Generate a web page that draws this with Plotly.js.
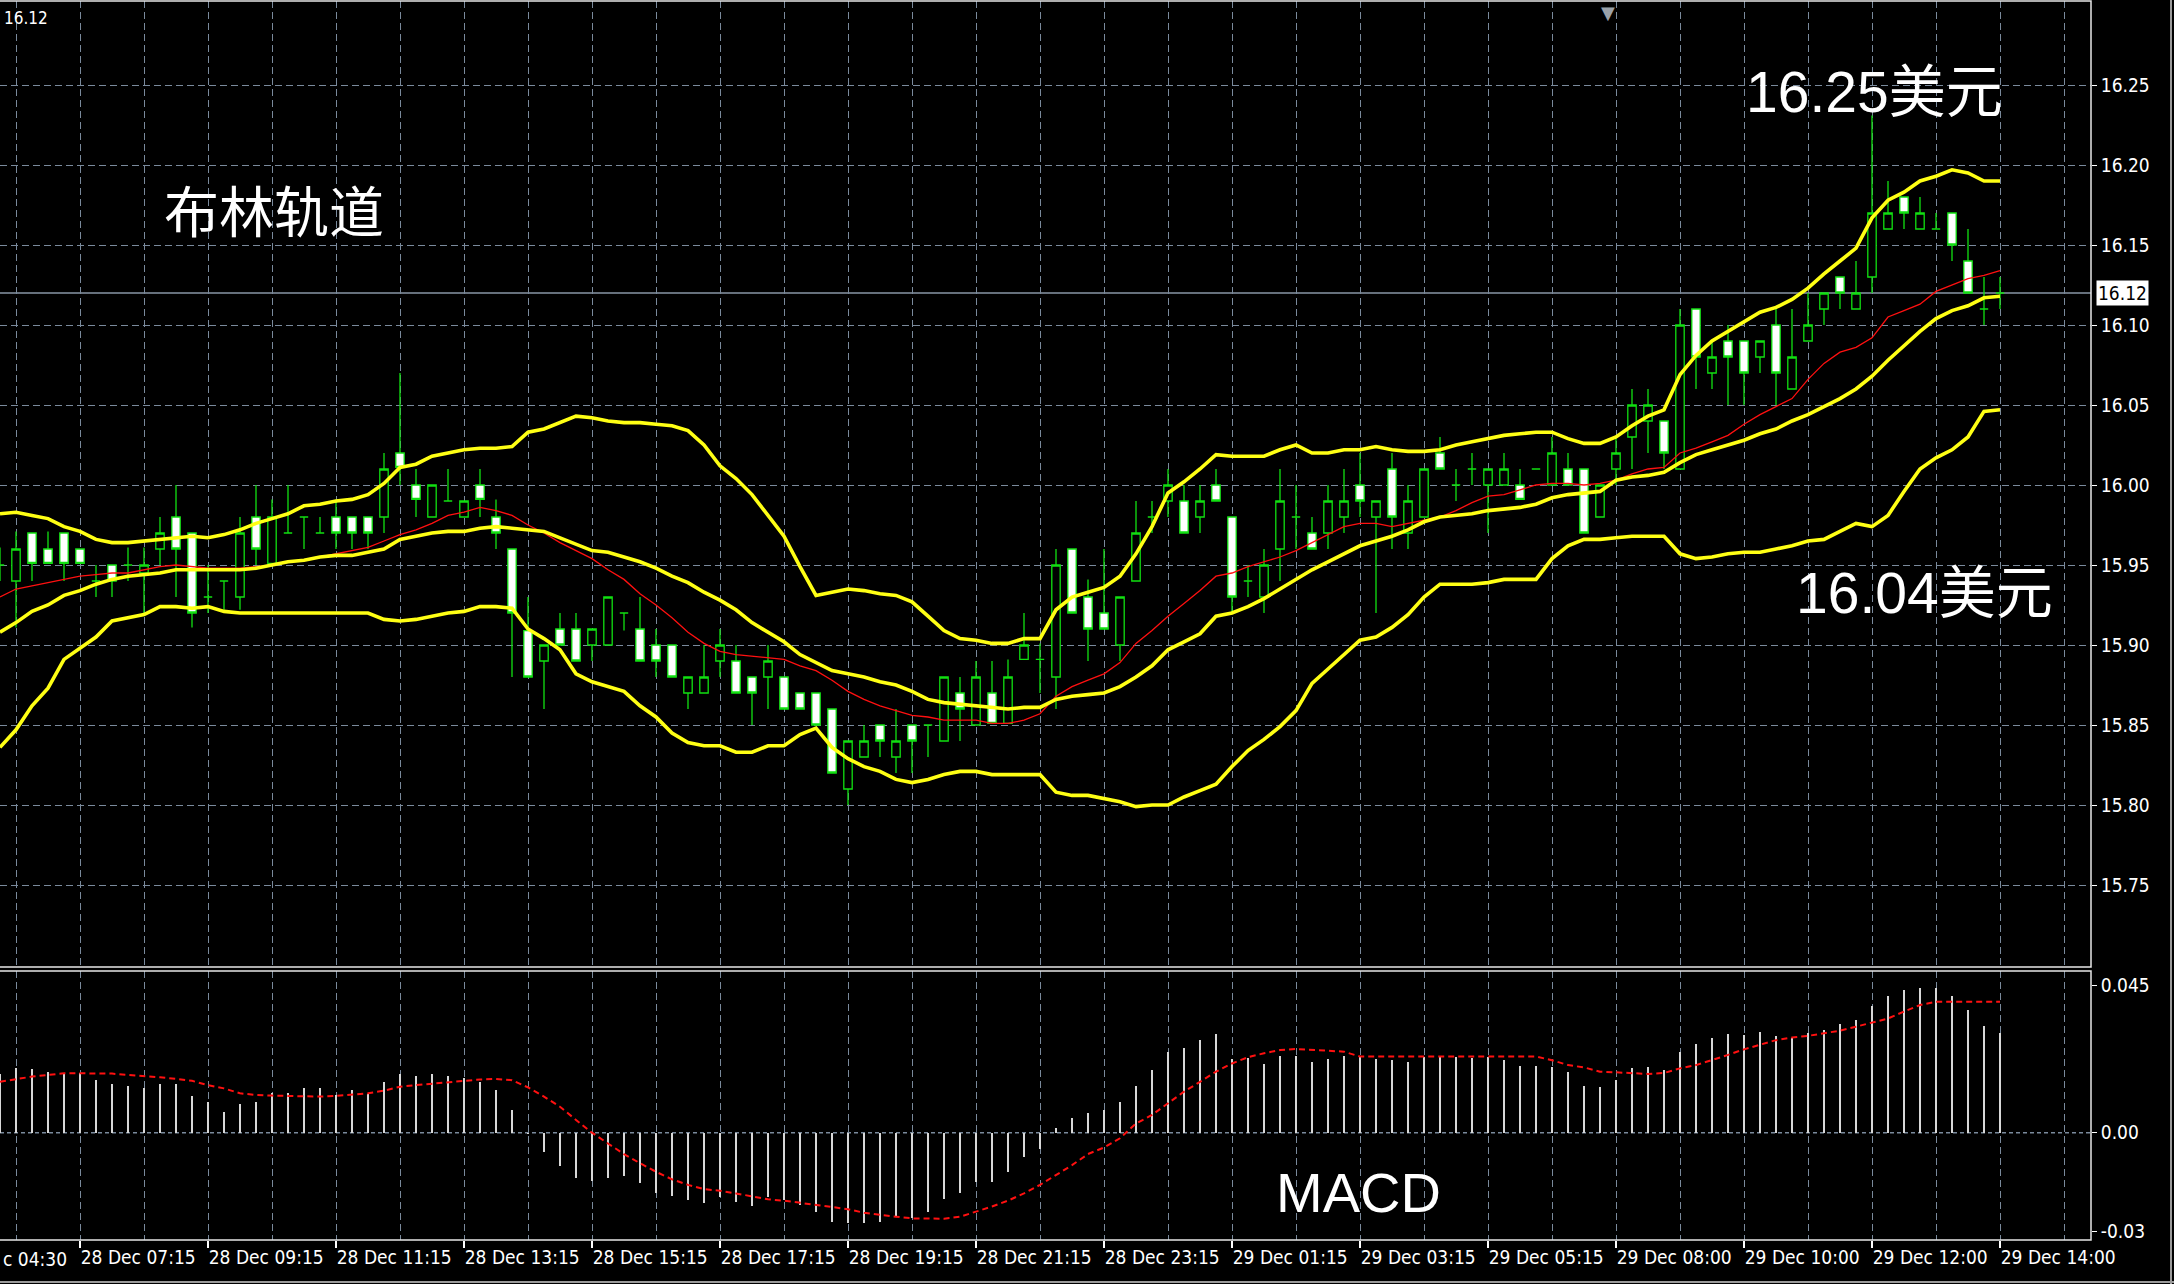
<!DOCTYPE html>
<html>
<head>
<meta charset="utf-8">
<script src="https://cdn.plot.ly/plotly-3.0.1.min.js"></script>
<style>
  html, body { margin: 0; padding: 0; background: #000; }
  #chart { width: 2174px; height: 1284px; }
</style>
</head>
<body>
<div id="chart"></div>
<script>
// ---- M15 bars (bar index 0 = leftmost visible bar) ----
const OPEN = [15.950,15.940,15.970,15.960,15.970,15.960,15.940,15.950,15.950,15.945,15.960,15.980,15.970,15.930,15.940,15.930,15.980,15.951,15.970,15.980,15.970,15.980,15.980,15.980,15.980,16.020,16.000,15.980,15.990,15.980,16.000,15.980,15.960,
15.909,15.890,15.910,15.910,15.900,15.900,15.920,15.910,15.900,15.900,15.870,15.870,15.890,15.890,15.880,15.880,15.880,15.870,15.870,15.860,15.810,15.830,15.850,15.830,15.850,15.850,15.840,15.870,15.850,15.870,15.851,
15.891,15.891,15.880,15.960,15.930,15.920,15.900,15.940,15.980,15.990,15.990,15.980,16.000,15.980,15.940,15.930,15.960,15.980,15.970,15.970,15.980,16.000,15.980,16.010,15.970,15.980,16.020,16.000,16.010,16.000,16.000,
16.000,16.010,16.000,16.010,16.010,15.980,16.010,16.030,16.040,16.040,16.010,16.110,16.070,16.090,16.090,16.080,16.100,16.060,16.090,16.110,16.130,16.110,16.130,16.160,16.180,16.160,16.160,16.170,16.140,16.110,16.120];
const HIGH = [15.961,15.971,15.970,15.971,15.970,15.960,15.950,15.950,15.961,15.961,15.980,16.000,15.970,15.950,15.940,15.980,16.000,15.991,16.000,15.980,15.980,15.991,15.980,15.980,16.020,16.070,16.010,16.000,16.010,15.990,16.010,15.991,15.960,
15.930,15.900,15.920,15.920,15.910,15.930,15.920,15.930,15.910,15.900,15.880,15.900,15.910,15.900,15.880,15.900,15.880,15.870,15.870,15.860,15.840,15.850,15.850,15.860,15.850,15.850,15.880,15.880,15.890,15.890,15.891,
15.920,15.901,15.960,15.960,15.941,15.960,15.930,15.990,15.990,16.010,16.000,16.000,16.010,15.980,15.950,15.960,16.010,16.000,15.980,16.000,16.010,16.020,15.990,16.020,16.000,16.010,16.030,16.010,16.020,16.010,16.020,
16.010,16.010,16.030,16.020,16.010,16.000,16.030,16.060,16.060,16.040,16.110,16.110,16.090,16.100,16.090,16.090,16.110,16.110,16.120,16.120,16.130,16.140,16.231,16.190,16.180,16.180,16.170,16.170,16.160,16.130,16.130];
const LOW = [15.940,15.911,15.940,15.951,15.940,15.951,15.930,15.930,15.940,15.920,15.950,15.930,15.911,15.920,15.922,15.922,15.950,15.951,15.970,15.960,15.970,15.960,15.960,15.960,15.970,16.000,15.980,15.980,15.990,15.980,15.980,15.960,15.880,
15.880,15.860,15.900,15.890,15.890,15.900,15.909,15.890,15.880,15.880,15.860,15.870,15.880,15.870,15.850,15.860,15.860,15.860,15.850,15.820,15.800,15.830,15.830,15.820,15.820,15.830,15.840,15.840,15.850,15.851,15.851,
15.891,15.870,15.860,15.920,15.890,15.910,15.890,15.940,15.970,15.980,15.970,15.970,15.990,15.920,15.930,15.920,15.940,15.960,15.960,15.960,15.970,15.980,15.920,15.960,15.960,15.980,16.010,15.990,16.000,15.970,16.000,
15.991,16.010,16.000,16.000,15.970,15.980,16.000,16.010,16.020,16.010,16.010,16.060,16.060,16.050,16.050,16.070,16.050,16.060,16.090,16.100,16.110,16.110,16.120,16.160,16.160,16.160,16.160,16.140,16.120,16.100,16.110];
const CLOSE = [15.950,15.960,15.951,15.951,15.951,15.951,15.940,15.940,15.950,15.950,15.970,15.960,15.920,15.930,15.940,15.970,15.960,15.980,15.970,15.980,15.970,15.970,15.970,15.970,16.010,16.011,15.991,16.000,15.990,15.990,15.991,15.970,15.920,
15.880,15.900,15.900,15.890,15.910,15.930,15.920,15.890,15.890,15.880,15.880,15.880,15.900,15.870,15.870,15.890,15.860,15.860,15.850,15.820,15.840,15.840,15.840,15.840,15.840,15.850,15.880,15.860,15.880,15.851,15.880,
15.900,15.891,15.950,15.920,15.910,15.910,15.930,15.970,15.980,16.000,15.970,15.990,15.990,15.930,15.940,15.950,15.990,15.980,15.960,15.990,15.990,15.990,15.990,15.980,15.990,16.010,16.010,16.000,16.010,16.010,16.010,
15.991,16.010,16.020,16.000,15.970,16.000,16.020,16.050,16.050,16.020,16.100,16.080,16.080,16.080,16.070,16.090,16.070,16.080,16.100,16.120,16.120,16.120,16.170,16.170,16.170,16.170,16.160,16.150,16.120,16.110,16.120];

// ---- Bollinger bands and moving average (one value per bar) ----
const BB_UPPER = [15.982,15.983,15.981,15.979,15.974,15.971,15.966,15.964,15.964,15.965,15.966,15.967,15.968,15.967,15.969,15.972,15.976,15.979,15.982,15.987,15.988,15.990,15.991,15.994,16.001,16.011,16.013,16.018,16.020,16.022,16.023,16.023,16.024,
16.033,16.035,16.039,16.043,16.042,16.040,16.039,16.039,16.038,16.037,16.034,16.025,16.012,16.004,15.994,15.981,15.968,15.949,15.931,15.933,15.935,15.934,15.932,15.931,15.927,15.918,15.909,15.904,15.903,15.901,15.901,
15.904,15.904,15.922,15.930,15.933,15.936,15.943,15.957,15.974,15.995,16.002,16.010,16.019,16.018,16.018,16.018,16.022,16.025,16.020,16.020,16.022,16.022,16.024,16.022,16.021,16.021,16.022,16.025,16.027,16.029,16.031,
16.032,16.033,16.033,16.029,16.026,16.026,16.030,16.037,16.043,16.047,16.069,16.081,16.090,16.096,16.102,16.108,16.111,16.116,16.123,16.132,16.140,16.148,16.167,16.178,16.183,16.190,16.193,16.197,16.195,16.190,16.190];
const BB_MIDDLE = [15.908,15.914,15.921,15.925,15.931,15.934,15.938,15.941,15.943,15.944,15.945,15.947,15.947,15.947,15.947,15.947,15.948,15.950,15.952,15.953,15.955,15.956,15.956,15.958,15.960,15.966,15.968,15.970,15.971,15.971,15.973,15.974,15.973,
15.972,15.971,15.967,15.963,15.959,15.958,15.955,15.952,15.948,15.943,15.939,15.933,15.928,15.922,15.914,15.908,15.902,15.894,15.889,15.884,15.882,15.880,15.877,15.875,15.871,15.866,15.864,15.863,15.862,15.861,15.860,
15.861,15.861,15.866,15.868,15.869,15.870,15.874,15.880,15.887,15.897,15.902,15.907,15.918,15.920,15.924,15.929,15.935,15.941,15.947,15.952,15.957,15.962,15.965,15.968,15.972,15.977,15.980,15.981,15.982,15.984,15.985,
15.986,15.988,15.992,15.994,15.995,15.996,16.003,16.005,16.006,16.008,16.014,16.019,16.022,16.025,16.028,16.032,16.035,16.040,16.044,16.049,16.054,16.060,16.068,16.078,16.087,16.096,16.104,16.109,16.112,16.117,16.118];
const BB_LOWER = [15.836,15.847,15.862,15.873,15.891,15.898,15.905,15.915,15.917,15.919,15.924,15.924,15.923,15.924,15.921,15.920,15.920,15.920,15.920,15.920,15.920,15.920,15.920,15.920,15.916,15.915,15.916,15.918,15.920,15.921,15.924,15.924,15.923,
15.910,15.904,15.897,15.882,15.877,15.874,15.871,15.862,15.855,15.845,15.839,15.837,15.837,15.833,15.833,15.837,15.837,15.844,15.848,15.836,15.829,15.824,15.821,15.816,15.814,15.816,15.819,15.821,15.821,15.819,15.819,
15.819,15.819,15.808,15.806,15.806,15.804,15.802,15.799,15.800,15.800,15.805,15.809,15.813,15.824,15.834,15.841,15.849,15.859,15.876,15.885,15.894,15.903,15.905,15.911,15.919,15.930,15.938,15.938,15.938,15.939,15.941,
15.941,15.941,15.954,15.962,15.966,15.966,15.967,15.968,15.968,15.968,15.957,15.954,15.955,15.957,15.958,15.958,15.960,15.962,15.965,15.966,15.971,15.976,15.974,15.981,15.996,16.010,16.017,16.022,16.030,16.046,16.047];
const MA_RED = [15.930,15.935,15.937,15.939,15.941,15.943,15.944,15.945,15.945,15.947,15.949,15.950,15.949,15.948,15.948,15.948,15.949,15.950,15.952,15.953,15.955,15.957,15.959,15.961,15.965,15.969,15.972,15.976,15.981,15.983,15.986,15.984,15.981,
15.975,15.970,15.964,15.959,15.954,15.947,15.941,15.932,15.925,15.917,15.908,15.901,15.896,15.894,15.893,15.892,15.891,15.887,15.884,15.878,15.871,15.866,15.862,15.859,15.856,15.855,15.853,15.853,15.853,15.851,15.851,
15.853,15.857,15.868,15.874,15.878,15.882,15.889,15.901,15.909,15.918,15.926,15.934,15.943,15.945,15.949,15.952,15.955,15.959,15.964,15.969,15.974,15.976,15.976,15.974,15.976,15.978,15.980,15.984,15.989,15.993,15.994,
15.997,16.000,16.001,16.001,16.000,16.001,16.003,16.007,16.010,16.011,16.020,16.023,16.027,16.031,16.038,16.044,16.049,16.054,16.066,16.076,16.083,16.086,16.092,16.105,16.109,16.113,16.121,16.125,16.129,16.131,16.134];

// ---- MACD ----
const MACD_HIST = [0.0179,0.0196,0.0193,0.0186,0.0181,0.0183,0.0160,0.0148,0.0142,0.0135,0.0148,0.0148,0.0112,0.0093,0.0062,0.0087,0.0093,0.0120,0.0122,0.0135,0.0135,0.0115,0.0130,0.0118,0.0155,0.0179,0.0173,0.0179,0.0173,0.0168,0.0155,0.0130,0.0069,-0.0003,
-0.0058,-0.0102,-0.0139,-0.0146,-0.0137,-0.0132,-0.0154,-0.0185,-0.0193,-0.0205,-0.0215,-0.0195,-0.0210,-0.0223,-0.0197,-0.0205,-0.0220,-0.0241,-0.0271,-0.0276,-0.0276,-0.0271,-0.0256,-0.0261,-0.0241,-0.0203,-0.0185,-0.0149,-0.0149,-0.0119,-0.0075,-0.0051,0.0013,0.0044,0.0059,
0.0069,0.0094,0.0142,0.0191,0.0247,0.0259,0.0282,0.0301,0.0226,0.0229,0.0209,0.0234,0.0234,0.0216,0.0226,0.0234,0.0230,0.0226,0.0221,0.0216,0.0231,0.0234,0.0231,0.0229,0.0231,0.0221,0.0203,0.0203,0.0201,0.0186,
0.0142,0.0138,0.0160,0.0196,0.0199,0.0191,0.0247,0.0270,0.0288,0.0300,0.0298,0.0308,0.0295,0.0288,0.0303,0.0313,0.0331,0.0343,0.0386,0.0416,0.0435,0.0440,0.0440,0.0416,0.0374,0.0325,0.0305];
const MACD_SIGNAL = [0.0155,0.0163,0.0171,0.0176,0.0181,0.0181,0.0181,0.0180,0.0176,0.0173,0.0169,0.0164,0.0158,0.0145,0.0135,0.0120,0.0115,0.0113,0.0112,0.0111,0.0110,0.0112,0.0115,0.0120,0.0128,0.0140,0.0145,0.0150,0.0155,0.0158,0.0162,0.0164,0.0160,0.0138,
0.0110,0.0079,0.0039,0.0000,-0.0033,-0.0065,-0.0093,-0.0119,-0.0142,-0.0159,-0.0172,-0.0177,-0.0185,-0.0195,-0.0203,-0.0207,-0.0213,-0.0220,-0.0225,-0.0233,-0.0244,-0.0251,-0.0256,-0.0261,-0.0262,-0.0262,-0.0256,-0.0241,-0.0225,-0.0207,-0.0185,-0.0159,-0.0129,-0.0099,-0.0065,
-0.0045,-0.0017,0.0028,0.0054,0.0089,0.0125,0.0155,0.0186,0.0211,0.0230,0.0242,0.0252,0.0255,0.0253,0.0251,0.0247,0.0232,0.0232,0.0232,0.0232,0.0232,0.0232,0.0232,0.0232,0.0232,0.0232,0.0232,0.0232,
0.0221,0.0206,0.0199,0.0186,0.0184,0.0181,0.0179,0.0182,0.0196,0.0206,0.0221,0.0237,0.0254,0.0267,0.0282,0.0290,0.0295,0.0303,0.0311,0.0323,0.0335,0.0348,0.0369,0.0389,0.0399,0.0399,0.0400,0.0400,0.0399];

// ---- axis text ----
const TIME_LABELS = ['28 Dec 07:15','28 Dec 09:15','28 Dec 11:15','28 Dec 13:15','28 Dec 15:15','28 Dec 17:15','28 Dec 19:15','28 Dec 21:15',
  '28 Dec 23:15','29 Dec 01:15','29 Dec 03:15','29 Dec 05:15','29 Dec 08:00','29 Dec 10:00','29 Dec 12:00','29 Dec 14:00'];
const FIRST_LABEL_VISIBLE = 'c 04:30';   // visible tail of "28 Dec 04:30" at the left edge
const PRICE_TICKS = [15.75, 15.80, 15.85, 15.90, 15.95, 16.00, 16.05, 16.10, 16.15, 16.20, 16.25];
const CURRENT_PRICE = 16.12;
const MACD_TICKS = [0.045, 0.00, -0.03];
const MACD_TICKTEXT = ['0.045', '0.00', '-0.03'];
const TITLE_TEXT = '布林轨道';
const HIGH_NOTE = '16.25美元';
const LOW_NOTE = '16.04美元';
const MACD_NOTE = 'MACD';

// ---- build ----
const N = OPEN.length;
const X = Array.from({length: N}, (_, i) => i);
const LABEL_POS = TIME_LABELS.map((_, k) => 5 + 8 * k);
const GRID_POS = [];
for (let g = 1; g <= 133; g += 4) GRID_POS.push(g);

const GRID = '#7A8A9C';
const AXFONT = {family: '"Liberation Sans Narrow", "DejaVu Sans Condensed", "DejaVu Sans", sans-serif', size: 19, color: '#FFFFFF'};
const XMAX = 2091 / 16;

const traces = [
  {
    type: 'candlestick', x: X, open: OPEN, high: HIGH, low: LOW, close: CLOSE,
    xaxis: 'x', yaxis: 'y',
    increasing: {line: {color: '#11E011', width: 1.3}, fillcolor: '#000000'},
    decreasing: {line: {color: '#11E011', width: 1.3}, fillcolor: '#FFFFFF'},
    whiskerwidth: 0, hoverinfo: 'skip'
  },
  {type: 'scatter', mode: 'lines', x: X, y: MA_RED, xaxis: 'x', yaxis: 'y', line: {color: '#FF1010', width: 1.3}, hoverinfo: 'skip'},
  {type: 'scatter', mode: 'lines', x: X, y: BB_UPPER, xaxis: 'x', yaxis: 'y', line: {color: '#FFFF14', width: 3.6}, hoverinfo: 'skip'},
  {type: 'scatter', mode: 'lines', x: X, y: BB_MIDDLE, xaxis: 'x', yaxis: 'y', line: {color: '#FFFF14', width: 3.6}, hoverinfo: 'skip'},
  {type: 'scatter', mode: 'lines', x: X, y: BB_LOWER, xaxis: 'x', yaxis: 'y', line: {color: '#FFFF14', width: 3.6}, hoverinfo: 'skip'},
  {type: 'bar', x: X, y: MACD_HIST, xaxis: 'x2', yaxis: 'y2', width: 0.1, marker: {color: '#D8D8D8', line: {width: 0}}, hoverinfo: 'skip'},
  {type: 'scatter', mode: 'lines', x: X, y: MACD_SIGNAL, xaxis: 'x2', yaxis: 'y2', line: {color: '#FF1010', width: 2, dash: '6px,4px'}, hoverinfo: 'skip'}
];

const pyPix = y => (1240 - y) / 1239;   // page pixel -> paper y
const pxPix = x => x / 2091;            // page pixel -> paper x

const layout = {
  width: 2174, height: 1284,
  paper_bgcolor: '#000000', plot_bgcolor: '#000000',
  margin: {l: 0, r: 83, t: 1, b: 44, pad: 0},
  showlegend: false,
  boxgap: 0.3, boxgroupgap: 0.25,
  bargap: 0,
  xaxis: {
    domain: [0, 1], anchor: 'y', range: [0, XMAX],
    tickmode: 'array', tickvals: GRID_POS, showticklabels: false, ticks: '',
    showgrid: true, gridcolor: GRID, gridwidth: 1, griddash: '7px,4px',
    zeroline: false, showline: false, rangeslider: {visible: false}, fixedrange: true
  },
  yaxis: {
    domain: [(1240 - 967) / 1239, 1], anchor: 'x', side: 'right',
    range: [16.0 - 482 / 1600, 16.0 + 484 / 1600],
    tickmode: 'array', tickvals: PRICE_TICKS, ticktext: PRICE_TICKS.map(v => v.toFixed(2)),
    ticks: 'outside', ticklen: 5, tickcolor: '#FFFFFF', tickfont: AXFONT,
    showgrid: true, gridcolor: GRID, gridwidth: 1, griddash: '7px,4px',
    zeroline: false, showline: false, fixedrange: true
  },
  xaxis2: {
    domain: [0, 1], anchor: 'y2', range: [0, XMAX],
    tickmode: 'array', tickvals: LABEL_POS, ticktext: TIME_LABELS,
    ticks: 'outside', ticklen: 7, tickcolor: '#FFFFFF', tickwidth: 1.5,
    ticklabelposition: 'outside right', tickfont: AXFONT,
    showgrid: false,
    minor: {tickmode: 'array', tickvals: GRID_POS, showgrid: true, gridcolor: GRID, gridwidth: 1, griddash: '7px,4px', ticks: ''},
    zeroline: false, showline: false, fixedrange: true
  },
  yaxis2: {
    domain: [0, (1240 - 971) / 1239], anchor: 'x2', side: 'right',
    range: [-(1240 - 1132.7) / 3282, (1132.7 - 971) / 3282],
    tickmode: 'array', tickvals: MACD_TICKS, ticktext: MACD_TICKTEXT,
    ticks: 'outside', ticklen: 5, tickcolor: '#FFFFFF', tickfont: AXFONT,
    showgrid: false, zeroline: false, showline: false, fixedrange: true
  },
  shapes: [
    {type: 'line', xref: 'paper', x0: 0, x1: 1, yref: 'y', y0: CURRENT_PRICE, y1: CURRENT_PRICE, line: {color: '#8896A6', width: 1.5}, layer: 'below'},
    {type: 'line', xref: 'paper', x0: 0, x1: 1, yref: 'y2', y0: 0, y1: 0, line: {color: GRID, width: 1.5, dash: '4px,3px'}, layer: 'below'},
    {type: 'rect', xref: 'paper', yref: 'paper', x0: -0.01, x1: 1, y0: pyPix(967), y1: pyPix(1), line: {color: '#E8E8E8', width: 1.5}},
    {type: 'rect', xref: 'paper', yref: 'paper', x0: -0.01, x1: 1, y0: pyPix(1240), y1: pyPix(971), line: {color: '#E8E8E8', width: 1.5}},
    {type: 'line', xref: 'paper', yref: 'paper', x0: pxPix(2171), x1: pxPix(2171), y0: pyPix(0), y1: pyPix(1284), line: {color: '#9A9A9A', width: 2}},
    {type: 'line', xref: 'paper', yref: 'paper', x0: 0, x1: pxPix(2174), y0: pyPix(1282), y1: pyPix(1282), line: {color: '#9A9A9A', width: 2}}
  ],
  annotations: [
    {xref: 'paper', yref: 'paper', x: pxPix(274), y: pyPix(208), text: TITLE_TEXT, showarrow: false, xanchor: 'center', yanchor: 'middle',
     font: {family: '"Noto Sans CJK SC", sans-serif', size: 55, color: '#FFFFFF'}},
    {xref: 'paper', yref: 'paper', x: pxPix(1874), y: pyPix(92), text: HIGH_NOTE, showarrow: false, xanchor: 'center', yanchor: 'middle',
     font: {family: '"Liberation Sans", "Noto Sans CJK SC", sans-serif', size: 57, color: '#FFFFFF'}},
    {xref: 'paper', yref: 'paper', x: pxPix(1924), y: pyPix(593), text: LOW_NOTE, showarrow: false, xanchor: 'center', yanchor: 'middle',
     font: {family: '"Liberation Sans", "Noto Sans CJK SC", sans-serif', size: 57, color: '#FFFFFF'}},
    {xref: 'paper', yref: 'paper', x: pxPix(1358), y: pyPix(1192), text: MACD_NOTE, showarrow: false, xanchor: 'center', yanchor: 'middle',
     font: {family: '"Liberation Sans", sans-serif', size: 56, color: '#FFFFFF'}},
    {xref: 'paper', yref: 'y', x: pxPix(2096), y: CURRENT_PRICE, text: CURRENT_PRICE.toFixed(2), showarrow: false, xanchor: 'left', yanchor: 'middle',
     bgcolor: '#FFFFFF', borderpad: 1, font: Object.assign({}, AXFONT, {color: '#000000'})},
    {xref: 'paper', yref: 'paper', x: pxPix(2), y: pyPix(18), text: CURRENT_PRICE.toFixed(2), showarrow: false, xanchor: 'left', yanchor: 'middle',
     font: Object.assign({}, AXFONT, {size: 17})},
    {xref: 'paper', yref: 'paper', x: pxPix(1), y: pyPix(1259), text: FIRST_LABEL_VISIBLE, showarrow: false, xanchor: 'left', yanchor: 'middle', font: AXFONT},
    {xref: 'paper', yref: 'paper', x: pxPix(1608), y: pyPix(0), text: '▼', showarrow: false, xanchor: 'center', yanchor: 'top',
     font: {family: '"DejaVu Sans", sans-serif', size: 18, color: '#9AA2AA'}}
  ]
};

Plotly.newPlot('chart', traces, layout, {displayModeBar: false, staticPlot: true});
</script>
</body>
</html>
